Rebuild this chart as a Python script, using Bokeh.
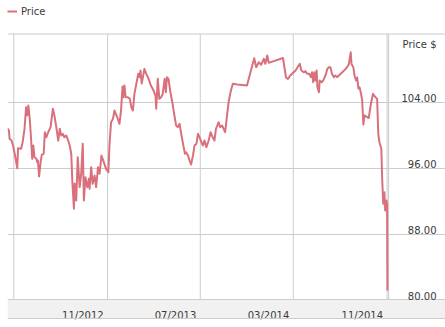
import pandas as pd
from bokeh.plotting import figure
from bokeh.models import (Range1d, Grid, FixedTicker, Span, BoxAnnotation,
                          Legend, LegendItem, ColumnDataSource)
from bokeh.embed import file_html
from bokeh.resources import INLINE
from bokeh.core.properties import value

# ---------------- data ----------------
dates = [
    "2012-02-14", "2012-02-17", "2012-02-19", "2012-02-24", "2012-02-28", "2012-03-05", "2012-03-10",
    "2012-03-12", "2012-03-20", "2012-03-24", "2012-03-29", "2012-04-02", "2012-04-05", "2012-04-08",
    "2012-04-12", "2012-04-15", "2012-04-18", "2012-04-21", "2012-04-24", "2012-04-29", "2012-05-01",
    "2012-05-03", "2012-05-06", "2012-05-10", "2012-05-13", "2012-05-18", "2012-05-21", "2012-05-25",
    "2012-05-30", "2012-06-05", "2012-06-11", "2012-06-15", "2012-06-20", "2012-06-25", "2012-06-29",
    "2012-07-03", "2012-07-07", "2012-07-11", "2012-07-16", "2012-07-21", "2012-07-25", "2012-07-29",
    "2012-08-01", "2012-08-05", "2012-08-07", "2012-08-11", "2012-08-15", "2012-08-20", "2012-08-24",
    "2012-08-28", "2012-08-31", "2012-09-04", "2012-09-09", "2012-09-13", "2012-09-15", "2012-09-19",
    "2012-09-23", "2012-09-28", "2012-10-02", "2012-10-07", "2012-10-11", "2012-10-16", "2012-10-22",
    "2012-10-28", "2012-11-03", "2012-11-06", "2012-11-10", "2012-11-15", "2012-11-19", "2012-11-26",
    "2012-12-02", "2012-12-06", "2012-12-10", "2012-12-12", "2012-12-15", "2012-12-18", "2012-12-24",
    "2012-12-29", "2013-01-02", "2013-01-06", "2013-01-10", "2013-01-15", "2013-01-20", "2013-01-23",
    "2013-01-26", "2013-01-29", "2013-02-02", "2013-02-05", "2013-02-10", "2013-02-16", "2013-02-22",
    "2013-03-01", "2013-03-06", "2013-03-08", "2013-03-12", "2013-03-16", "2013-03-21", "2013-03-25",
    "2013-03-30", "2013-04-02", "2013-04-05", "2013-04-09", "2013-04-14", "2013-04-19", "2013-04-23",
    "2013-04-29", "2013-05-03", "2013-05-08", "2013-05-13", "2013-05-17", "2013-05-22", "2013-05-25",
    "2013-05-30", "2013-06-03", "2013-06-07", "2013-06-12", "2013-06-16", "2013-06-21", "2013-06-25",
    "2013-06-29", "2013-07-04", "2013-07-08", "2013-07-12", "2013-07-17", "2013-07-23", "2013-07-28",
    "2013-08-03", "2013-08-07", "2013-08-11", "2013-08-18", "2013-08-22", "2013-08-27", "2013-09-02",
    "2013-09-04", "2013-09-09", "2013-09-13", "2013-09-18", "2013-09-24", "2013-10-06", "2013-10-31",
    "2013-11-09", "2013-11-19", "2013-11-24", "2013-12-01", "2013-12-07", "2013-12-14", "2013-12-18",
    "2013-12-23", "2013-12-27", "2014-02-02", "2014-02-10", "2014-02-15", "2014-02-21", "2014-02-26",
    "2014-03-07", "2014-03-15", "2014-03-18", "2014-03-22", "2014-03-28", "2014-04-02", "2014-04-06",
    "2014-04-12", "2014-04-16", "2014-04-19", "2014-04-22", "2014-04-25", "2014-04-28", "2014-05-01",
    "2014-05-03", "2014-05-07", "2014-05-09", "2014-05-14", "2014-05-18", "2014-05-24", "2014-05-29",
    "2014-06-02", "2014-06-06", "2014-06-10", "2014-06-15", "2014-06-19", "2014-06-24", "2014-06-28",
    "2014-07-07", "2014-07-16", "2014-07-24", "2014-07-29", "2014-07-31", "2014-08-05", "2014-08-08",
    "2014-08-12", "2014-08-15", "2014-08-18", "2014-08-21", "2014-08-25", "2014-08-28", "2014-08-31",
    "2014-09-03", "2014-09-08", "2014-09-14", "2014-09-19", "2014-09-25", "2014-09-30", "2014-10-06",
    "2014-10-09", "2014-10-12", "2014-10-17", "2014-10-19", "2014-10-22", "2014-10-25", "2014-10-27",
    "2014-10-30", "2014-11-01", "2014-11-02",
]
prices = [
    100.8, 100.6, 99.56, 99.35, 98.74, 97.32, 95.99,
    98.42, 98.34, 99.14, 100.77, 103.39, 102.39, 103.6,
    101.78, 99.56, 97.13, 98.74, 97.32, 97.13, 96.72,
    96.92, 94.98, 96.72, 97.61, 97.74, 100.36, 99.75,
    100.36, 100.97, 103.2, 102.39, 100.97, 99.35, 100.77,
    99.96, 100.16, 99.75, 99.96, 99.35, 98.74, 97.74,
    94.29, 91.06, 94.13, 92.07, 97.32, 93.68, 95.34,
    98.95, 92.07, 94.9, 93.68, 94.7, 93.49, 96.11,
    94.09, 95.1, 93.68, 96.11, 95.31, 97.53, 96.72,
    95.91, 95.5, 98.95, 101.57, 101.98, 102.99, 102.18,
    101.38, 102.99, 105.91, 104.61, 106.03, 104.61, 104.61,
    104.41, 103.39, 102.99, 105.02, 106.23, 107.45, 107.04,
    107.85, 106.27, 107.24, 108.05, 107.45, 106.84, 106.03,
    105.42, 104.81, 103.2, 106.84, 104.41, 104.61, 105.02,
    106.84, 105.21, 107.04, 106.84, 105.21, 104.0, 102.79,
    101.17, 100.97, 101.38, 99.96, 98.95, 97.74, 97.93,
    97.53, 96.92, 96.44, 97.53, 98.74, 98.95, 100.16,
    99.75, 99.14, 98.74, 99.35, 98.54, 99.35, 100.36,
    99.68, 99.35, 100.77, 101.57, 100.97, 101.17, 100.56,
    100.36, 102.39, 104.0, 105.21, 106.23, 106.15, 106.03,
    107.61, 109.34, 108.25, 108.86, 108.54, 109.27, 108.66,
    109.67, 108.78, 109.37, 107.0, 106.82, 107.24, 107.45,
    107.85, 108.46, 108.66, 107.85, 107.64, 107.76, 107.45,
    107.45, 107.04, 107.64, 106.43, 107.64, 106.63, 107.85,
    105.82, 105.21, 106.63, 106.43, 106.63, 107.24, 108.05,
    108.25, 108.25, 107.45, 107.04, 107.24, 107.04, 107.24,
    107.64, 108.05, 108.58, 110.07, 108.66, 108.21, 107.24,
    106.63, 107.0, 105.66, 105.82, 105.02, 104.21, 101.29,
    102.39, 102.26, 102.08, 103.6, 105.02, 104.69, 104.41,
    100.16, 99.14, 98.34, 94.9, 91.67, 93.07, 90.85,
    92.07, 91.67, 81.15,
]
series_name = "Price"
axis_title = "Price $"
y_ticks = [80, 88, 96, 104]
y_tick_labels = ["80.00", "88.00", "96.00", "104.00"]
x_grid_dates = ["2012-03-01", "2012-11-01", "2013-07-01", "2014-03-01", "2014-11-01", "2014-11-05"]
x_label_dates = ["2012-11-01", "2013-07-01", "2014-03-01", "2014-11-01"]
x_tick_labels = ["11/2012", "07/2013", "03/2014", "11/2014"]

# ---------------- figure ----------------
LINE_COLOR = "#d9707c"
GRID_COLOR = "#cccccc"
TEXT_COLOR = "#3a3a3a"
FONT = "DejaVu Sans"

x_start = pd.Timestamp("2012-02-13 12:00")
x_end = pd.Timestamp("2015-04-02 14:00")
y_start, y_end = 77.62, 116.35
plot_top = 112.28      # upper border line of the plotting area
band_bottom = 77.74    # lower border line of the date band

p = figure(width=445, height=327, output_backend="svg", toolbar_location=None,
           x_axis_type="datetime", x_axis_location=None, y_axis_location=None,
           x_range=Range1d(x_start, x_end), y_range=Range1d(y_start, y_end),
           min_border_left=7, min_border_right=0, min_border_top=0, min_border_bottom=8,
           background_fill_color="white", border_fill_color="white")
p.outline_line_color = None
p.xgrid.visible = False
p.ygrid.visible = False

# horizontal gridlines
ygrid = Grid(dimension=1, ticker=FixedTicker(ticks=y_ticks),
             grid_line_color=GRID_COLOR, grid_line_width=1)
p.add_layout(ygrid)

# bottom band for the date labels
p.add_layout(BoxAnnotation(top=y_ticks[0], bottom=band_bottom, fill_color="#f1f1f1",
                           fill_alpha=1.0, line_color=None, level="underlay"))
p.add_layout(Span(location=band_bottom, dimension="width", line_color=GRID_COLOR, line_width=1))
p.add_layout(Span(location=plot_top, dimension="width", line_color=GRID_COLOR, line_width=1))

# vertical gridlines, from the band up to the top border
gx = pd.to_datetime(x_grid_dates)
p.segment(x0=gx, y0=[y_ticks[0]] * len(gx), x1=gx, y1=[plot_top] * len(gx),
          line_color=GRID_COLOR, line_width=1)

src = ColumnDataSource(dict(date=pd.to_datetime(dates), price=prices))
r = p.line("date", "price", source=src, line_color=LINE_COLOR, line_width=2, line_join="round")

# y labels (inside plot, right side, above gridlines)
ylab = ColumnDataSource(dict(x=[x_end] * len(y_ticks), y=y_ticks, t=y_tick_labels))
p.text("x", "y", text="t", source=ylab, x_offset=-9, y_offset=-4,
       text_align="right", text_baseline="alphabetic",
       text_font=value(FONT), text_font_size="10px", text_color=TEXT_COLOR)
p.text(x=[x_end], y=[111.0], text=[axis_title], x_offset=-9,
       text_align="right", text_baseline="alphabetic",
       text_font=value(FONT), text_font_size="10px", text_color=TEXT_COLOR)

# x labels (inside the bottom band, right-aligned to the gridlines)
xlab = ColumnDataSource(dict(x=pd.to_datetime(x_label_dates), y=[78.11] * len(x_label_dates),
                             t=x_tick_labels))
p.text("x", "y", text="t", source=xlab, x_offset=-4,
       text_align="right", text_baseline="alphabetic",
       text_font=value(FONT), text_font_size="10px", text_color=TEXT_COLOR)

legend = Legend(items=[LegendItem(label=series_name, renderers=[r])],
                location=(0, 302), orientation="horizontal",
                glyph_width=10, glyph_height=12, label_height=12, label_standoff=4,
                padding=0, margin=0, spacing=0,
                border_line_color=None, background_fill_alpha=0,
                label_text_font=FONT, label_text_font_size="10px",
                label_text_color=TEXT_COLOR)
p.add_layout(legend)

open("out.html", "w").write(file_html(p, INLINE))
